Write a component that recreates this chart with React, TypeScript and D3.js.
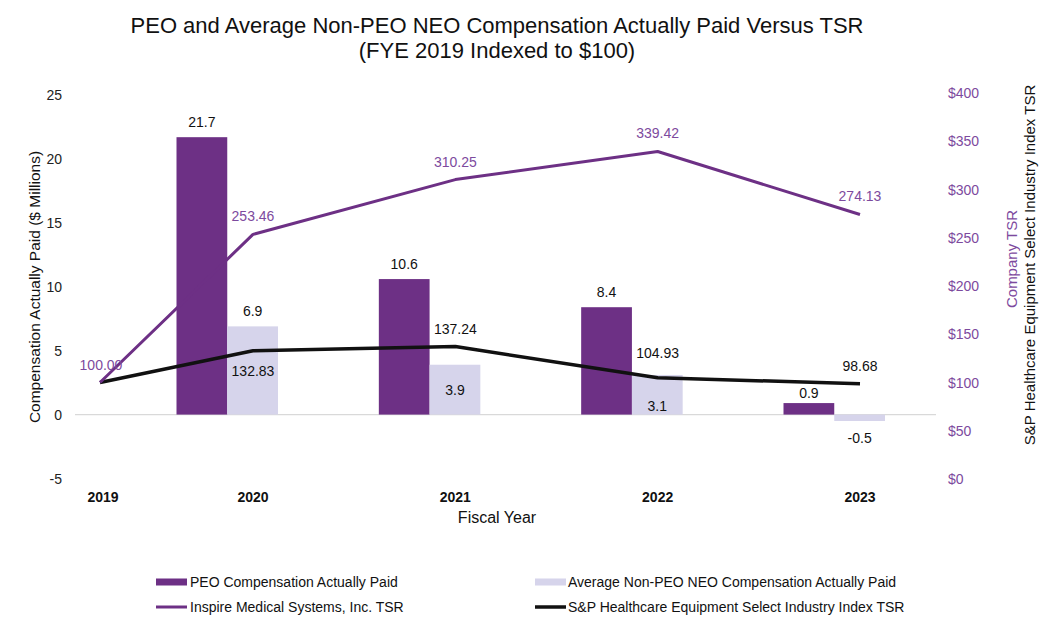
import React from "react";
import * as d3 from "d3";

// values
const years = [2019, 2020, 2021, 2022, 2023];
const barYears = [2020, 2021, 2022, 2023];
const peoPaid = [21.7, 10.6, 8.4, 0.9];
const nonPeoPaid = [6.9, 3.9, 3.1, -0.5];
const companyTsr = [100.0, 253.46, 310.25, 339.42, 274.13];
const indexTsr = [100.0, 132.83, 137.24, 104.93, 98.68];
const leftTicks = [-5, 0, 5, 10, 15, 20, 25];
const rightTicks = [0, 50, 100, 150, 200, 250, 300, 350, 400];

// label placement (layout, not data)
const nonPeoLabelMode = ["above", "inside", "inside-low", "below"];
const indexLabelDy = [null, 25, -13, -20, -13];

const W = 1060;
const H = 630;
const plotLeft = 75;
const plotRight = 936;
const FONT = "'Liberation Sans', Arial, sans-serif";
const PURPLE = "#6d3085";
const PURPLE_TEXT = "#7d4a9e";
const LAVENDER = "#d6d4eb";

const App: React.FC = () => {
  // x: category positions (2019 sits closer to the axis than the others)
  const x = d3.scaleLinear().domain([2019, 2020, 2023]).range([100, 253, 860]);
  const series = d3.scaleBand().domain(["peo", "nonpeo"]).range([-76.5, 25]);
  const yL = d3.scaleLinear().domain([-5, 25]).range([478.5, 95]);
  const yR = d3.scaleLinear().domain([0, 400]).range([479, 93]);

  const lineR = d3
    .line<number>()
    .x((_, i) => x(years[i]))
    .y((d) => yR(d));

  const bw = series.bandwidth();

  return (
    <svg
      width={W}
      height={H}
      style={{ position: "absolute", left: 0, top: 0, background: "#fff" }}
      fontFamily={FONT}
    >
      {/* title */}
      <text x={497} y={33} textAnchor="middle" fontSize={22} fill="#111">
        PEO and Average Non-PEO NEO Compensation Actually Paid Versus TSR
      </text>
      <text x={497} y={58} textAnchor="middle" fontSize={22} fill="#111">
        (FYE 2019 Indexed to $100)
      </text>

      {/* left axis ticks */}
      {leftTicks.map((t) => (
        <text key={t} x={62} y={yL(t) + 5} textAnchor="end" fontSize={14} fill="#222">
          {t}
        </text>
      ))}
      {/* right axis ticks */}
      {rightTicks.map((t) => (
        <text key={t} x={948} y={yR(t) + 5} fontSize={14} fill={PURPLE_TEXT}>
          {"$" + t}
        </text>
      ))}

      {/* axis titles */}
      <text
        transform="translate(40,287) rotate(-90)"
        textAnchor="middle"
        fontSize={15.5}
        fill="#111"
      >
        Compensation Actually Paid ($ Millions)
      </text>
      <text
        transform="translate(1017,259) rotate(-90)"
        textAnchor="middle"
        fontSize={15}
        fill={PURPLE_TEXT}
      >
        Company TSR
      </text>
      <text
        transform="translate(1035,265) rotate(-90)"
        textAnchor="middle"
        fontSize={15}
        fill="#111"
      >
        S&amp;P Healthcare Equipment Select Industry Index TSR
      </text>

      {/* zero line */}
      <line x1={plotLeft} x2={plotRight} y1={yL(0)} y2={yL(0)} stroke="#d9d9d9" strokeWidth={1.2} />

      {/* bars */}
      {barYears.map((yr, i) => {
        const cx = x(yr);
        const p = peoPaid[i];
        const n = nonPeoPaid[i];
        return (
          <g key={yr}>
            <rect
              x={cx + (series("peo") as number)}
              y={yL(Math.max(0, p))}
              width={bw}
              height={Math.abs(yL(p) - yL(0))}
              fill={PURPLE}
            />
            <rect
              x={cx + (series("nonpeo") as number)}
              y={yL(Math.max(0, n))}
              width={bw}
              height={Math.abs(yL(n) - yL(0))}
              fill={LAVENDER}
            />
          </g>
        );
      })}

      {/* lines */}
      <path d={lineR(indexTsr) as string} fill="none" stroke="#111" strokeWidth={3.5} strokeLinejoin="round" />
      <path d={lineR(companyTsr) as string} fill="none" stroke={PURPLE} strokeWidth={3} strokeLinejoin="round" />

      {/* bar labels */}
      {barYears.map((yr, i) => {
        const cx = x(yr);
        const p = peoPaid[i];
        const n = nonPeoPaid[i];
        const px = cx + (series("peo") as number) + bw / 2;
        const nx = cx + (series("nonpeo") as number) + bw / 2;
        const mode = nonPeoLabelMode[i];
        let ny = yL(n) - 10;
        if (mode === "inside") ny = (yL(n) + yL(0)) / 2 + 5;
        if (mode === "inside-low") ny = yL(0) - 4;
        if (mode === "below") ny = yL(n) + 22;
        return (
          <g key={yr} fontSize={14} fill="#111" textAnchor="middle">
            <text x={px} y={yL(p) - (p < 2 ? 5 : 10)}>{p.toFixed(1)}</text>
            <text x={nx} y={ny}>{n.toFixed(1)}</text>
          </g>
        );
      })}

      {/* TSR labels */}
      {companyTsr.map((v, i) => (
        <text
          key={"c" + i}
          x={x(years[i]) + (i === 0 ? 1 : 0)}
          y={yR(v) - 13}
          textAnchor="middle"
          fontSize={14}
          fill={PURPLE_TEXT}
        >
          {v.toFixed(2)}
        </text>
      ))}
      {indexTsr.map((v, i) =>
        indexLabelDy[i] === null ? null : (
          <text
            key={"s" + i}
            x={x(years[i])}
            y={yR(v) + (indexLabelDy[i] as number)}
            textAnchor="middle"
            fontSize={14}
            fill="#111"
          >
            {v.toFixed(2)}
          </text>
        ),
      )}

      {/* x axis labels */}
      {years.map((yr) => (
        <text
          key={yr}
          x={x(yr) + (yr === 2019 ? 3 : 0)}
          y={502}
          textAnchor="middle"
          fontSize={14}
          fontWeight="bold"
          fill="#111"
        >
          {yr}
        </text>
      ))}
      <text x={497} y={523} textAnchor="middle" fontSize={16} fill="#111">
        Fiscal Year
      </text>

      {/* legend */}
      <g fontSize={14} fill="#111">
        <rect x={156} y={578.5} width={31} height={7} fill={PURPLE} />
        <text x={190} y={587}>PEO Compensation Actually Paid</text>
        <rect x={535} y={578.5} width={31} height={7} fill={LAVENDER} />
        <text x={568} y={587}>Average Non-PEO NEO Compensation Actually Paid</text>
        <line x1={156} x2={187} y1={607} y2={607} stroke={PURPLE} strokeWidth={3} />
        <text x={190} y={612}>Inspire Medical Systems, Inc. TSR</text>
        <line x1={535} x2={566} y1={607} y2={607} stroke="#111" strokeWidth={3.5} />
        <text x={568} y={612}>S&amp;P Healthcare Equipment Select Industry Index TSR</text>
      </g>
    </svg>
  );
};

export default App;
